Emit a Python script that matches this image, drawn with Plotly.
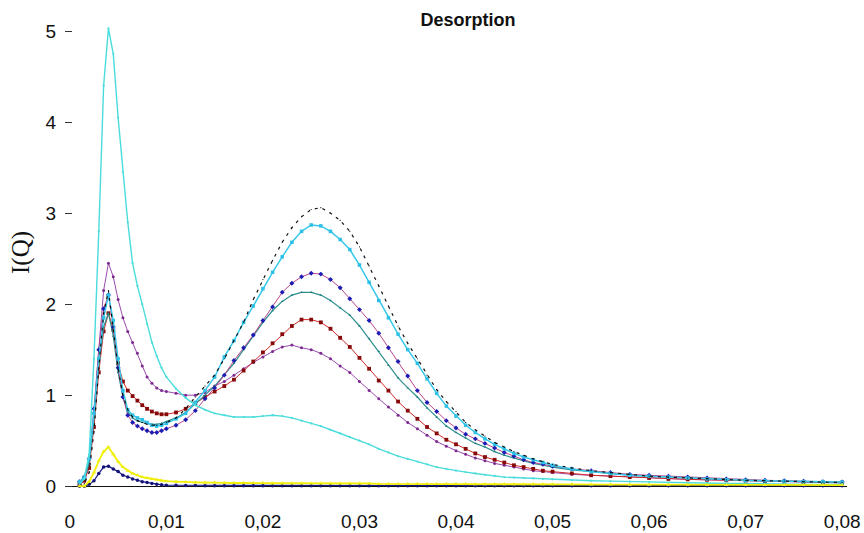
import plotly.graph_objects as go

# ---------------- data ----------------
Q = [0.0010, 0.0015, 0.0020, 0.0025, 0.0030, 0.0035, 0.0040, 0.0045, 0.0050, 0.0055,
     0.0060, 0.0065, 0.0070, 0.0075, 0.0080, 0.0085, 0.0090, 0.0095, 0.0100,
     0.011, 0.012, 0.013, 0.014, 0.015, 0.016, 0.017, 0.018, 0.019, 0.020,
     0.021, 0.022, 0.023, 0.024, 0.025, 0.026, 0.027, 0.028, 0.029, 0.030,
     0.031, 0.032, 0.033, 0.034, 0.035, 0.036, 0.037, 0.038, 0.039, 0.040,
     0.041, 0.042, 0.043, 0.044, 0.045, 0.046, 0.047, 0.048, 0.049, 0.050,
     0.052, 0.054, 0.056, 0.058, 0.060, 0.062, 0.064, 0.066, 0.068, 0.070,
     0.072, 0.074, 0.076, 0.078, 0.080]

light_cyan = [0.02, 0.08, 0.35, 1.4, 2.8, 4.4, 5.03, 4.75, 4.05, 3.45, 2.9, 2.45, 2.2, 2.0, 1.78, 1.58, 1.43, 1.3, 1.2,
              1.07, 0.97, 0.89, 0.84, 0.80, 0.78, 0.76, 0.76, 0.76, 0.77,
              0.78, 0.77, 0.75, 0.72, 0.69, 0.66, 0.62, 0.58, 0.54, 0.50,
              0.46, 0.41, 0.37, 0.33, 0.30, 0.27, 0.24, 0.21, 0.19, 0.17,
              0.155, 0.14, 0.125, 0.11, 0.10, 0.095, 0.09, 0.085, 0.08, 0.075,
              0.065, 0.06, 0.055, 0.05, 0.045, 0.04, 0.035, 0.035, 0.03, 0.03, 0.025, 0.025, 0.02, 0.02, 0.02]

black = [0.0, 0.03, 0.15, 0.6, 1.3, 1.9, 2.15, 1.75, 1.3, 1.0, 0.84, 0.76, 0.72, 0.70, 0.68, 0.67, 0.67, 0.68, 0.70,
         0.75, 0.85, 0.98, 1.10, 1.22, 1.40, 1.60, 1.80, 2.05, 2.27,
         2.48, 2.68, 2.84, 2.96, 3.04, 3.06, 3.00, 2.92, 2.80, 2.63,
         2.42, 2.20, 1.98, 1.76, 1.57, 1.40, 1.22, 1.06, 0.93, 0.82,
         0.70, 0.62, 0.55, 0.48, 0.43, 0.38, 0.34, 0.30, 0.27, 0.24,
         0.20, 0.17, 0.15, 0.13, 0.11, 0.10, 0.09, 0.08, 0.07, 0.065, 0.06, 0.055, 0.05, 0.045, 0.04]

cyan = [0.05, 0.10, 0.30, 0.80, 1.40, 1.85, 2.10, 1.82, 1.40, 1.05, 0.84, 0.78, 0.75, 0.73, 0.70, 0.67, 0.66, 0.67, 0.69,
        0.74, 0.80, 0.92, 1.05, 1.20, 1.42, 1.60, 1.80, 1.98, 2.17,
        2.35, 2.52, 2.68, 2.80, 2.87, 2.86, 2.80, 2.71, 2.60, 2.43,
        2.24, 2.04, 1.85, 1.67, 1.50, 1.35, 1.18, 1.02, 0.88, 0.77,
        0.67, 0.59, 0.52, 0.46, 0.41, 0.36, 0.32, 0.29, 0.26, 0.23,
        0.19, 0.16, 0.14, 0.12, 0.11, 0.10, 0.09, 0.08, 0.07, 0.065, 0.06, 0.055, 0.05, 0.05, 0.045]

blue = [0.05, 0.10, 0.30, 0.85, 1.50, 1.95, 2.10, 1.75, 1.30, 0.98, 0.78, 0.70, 0.66, 0.63, 0.61, 0.59, 0.59, 0.61, 0.63,
        0.67, 0.73, 0.83, 0.96, 1.08, 1.22, 1.38, 1.52, 1.66, 1.82,
        1.97, 2.13, 2.23, 2.30, 2.34, 2.33, 2.27, 2.18, 2.06, 1.94,
        1.82, 1.68, 1.52, 1.37, 1.21, 1.05, 0.92, 0.82, 0.72, 0.64,
        0.57, 0.52, 0.47, 0.42, 0.37, 0.33, 0.29, 0.26, 0.24, 0.22,
        0.19, 0.17, 0.15, 0.13, 0.12, 0.11, 0.10, 0.09, 0.08, 0.07, 0.065, 0.06, 0.055, 0.05, 0.045]

teal = [0.03, 0.08, 0.25, 0.75, 1.35, 1.75, 1.90, 1.65, 1.25, 0.98, 0.82, 0.75, 0.72, 0.70, 0.69, 0.68, 0.68, 0.69, 0.71,
        0.75, 0.81, 0.90, 1.00, 1.10, 1.22, 1.35, 1.50, 1.65, 1.80,
        1.93, 2.03, 2.10, 2.13, 2.13, 2.10, 2.04, 1.96, 1.88, 1.76,
        1.62, 1.48, 1.33, 1.19, 1.08, 0.98, 0.86, 0.76, 0.66, 0.59,
        0.53, 0.47, 0.43, 0.38, 0.34, 0.31, 0.28, 0.25, 0.23, 0.21,
        0.18, 0.16, 0.14, 0.12, 0.11, 0.10, 0.09, 0.08, 0.07, 0.065, 0.06, 0.055, 0.05, 0.045, 0.04]

maroon = [0.02, 0.06, 0.20, 0.65, 1.25, 1.70, 1.90, 1.72, 1.35, 1.15, 1.05, 0.99, 0.94, 0.89, 0.85, 0.82, 0.80, 0.79, 0.79,
          0.81, 0.85, 0.91, 0.98, 1.04, 1.10, 1.17, 1.27, 1.37, 1.47,
          1.57, 1.67, 1.76, 1.83, 1.83, 1.80, 1.73, 1.63, 1.53, 1.41,
          1.29, 1.16, 1.05, 0.93, 0.83, 0.74, 0.65, 0.58, 0.51, 0.46,
          0.41, 0.36, 0.32, 0.29, 0.26, 0.23, 0.21, 0.19, 0.17, 0.16,
          0.14, 0.12, 0.11, 0.10, 0.09, 0.08, 0.075, 0.07, 0.065, 0.06, 0.055, 0.05, 0.045, 0.04, 0.04]

purple = [0.02, 0.06, 0.25, 0.80, 1.50, 2.15, 2.45, 2.30, 2.05, 1.85, 1.70, 1.58, 1.46, 1.32, 1.20, 1.13, 1.08, 1.05, 1.04,
          1.02, 1.00, 1.00, 1.03, 1.10, 1.15, 1.22, 1.29, 1.36, 1.42,
          1.48, 1.53, 1.55, 1.52, 1.50, 1.46, 1.40, 1.32, 1.25, 1.15,
          1.05, 0.96, 0.87, 0.78, 0.70, 0.63, 0.56, 0.49, 0.44, 0.39,
          0.35, 0.31, 0.28, 0.25, 0.23, 0.21, 0.19, 0.17, 0.16, 0.15,
          0.13, 0.12, 0.11, 0.10, 0.09, 0.08, 0.075, 0.07, 0.065, 0.06, 0.055, 0.05, 0.045, 0.04, 0.035]

yellow = [0.0, 0.0, 0.05, 0.15, 0.28, 0.38, 0.43, 0.35, 0.27, 0.21, 0.17, 0.14, 0.12, 0.10, 0.09, 0.08, 0.07, 0.06, 0.055,
          0.05, 0.045, 0.04, 0.04, 0.04, 0.035, 0.035, 0.035, 0.035, 0.035,
          0.03, 0.03, 0.03, 0.03, 0.03, 0.03, 0.03, 0.03, 0.03, 0.03,
          0.03, 0.025, 0.025, 0.025, 0.025, 0.025, 0.025, 0.025, 0.025, 0.025,
          0.025, 0.02, 0.02, 0.02, 0.02, 0.02, 0.02, 0.02, 0.02, 0.02,
          0.02, 0.018, 0.018, 0.016, 0.016, 0.015, 0.015, 0.014, 0.014, 0.013, 0.013, 0.012, 0.012, 0.012, 0.012]

navy = [0.0, 0.0, 0.02, 0.06, 0.14, 0.21, 0.22, 0.19, 0.16, 0.12, 0.10, 0.08, 0.065, 0.05, 0.04, 0.03, 0.02, 0.015, 0.01,
        0.01, 0.008, 0.007, 0.006, 0.006, 0.005, 0.005, 0.005, 0.005, 0.005,
        0.005, 0.005, 0.005, 0.005, 0.005, 0.005, 0.005, 0.005, 0.005, 0.005,
        0.005, 0.005, 0.005, 0.005, 0.005, 0.005, 0.005, 0.005, 0.005, 0.005,
        0.005, 0.005, 0.005, 0.005, 0.005, 0.005, 0.005, 0.005, 0.005, 0.005,
        0.005, 0.005, 0.005, 0.005, 0.005, 0.005, 0.005, 0.005, 0.005, 0.005, 0.005, 0.005, 0.005, 0.005, 0.005]

x_tick_vals = [0, 0.01, 0.02, 0.03, 0.04, 0.05, 0.06, 0.07, 0.08]
x_tick_text = ["0", "0,01", "0,02", "0,03", "0,04", "0,05", "0,06", "0,07", "0,08"]
y_tick_vals = [0, 1, 2, 3, 4, 5]
y_tick_text = ["0", "1", "2", "3", "4", "5"]

# ---------------- figure ----------------
fig = go.Figure()

def add(y, line_color, marker_color, symbol, msize, width=1.0, dash="solid"):
    fig.add_trace(go.Scatter(
        x=Q, y=y, mode="lines+markers",
        line=dict(color=line_color, width=width, dash=dash),
        marker=dict(color=marker_color, symbol=symbol, size=msize, line=dict(width=0)),
        showlegend=False, hoverinfo="skip"))

add(purple, "#9A4AAE", "#7B2A8E", "circle", 3, 1.0)
add(maroon, "#D02A2A", "#860A0A", "square", 3.8, 1.0)
add(teal, "#2E8E8E", "#1F7F7F", "triangle-up", 2.5, 1.2)
add(blue, "#B03080", "#1C1CB4", "diamond", 3.8, 0.9)
add(cyan, "#36C8EC", "#2CC0E6", "square", 3.5, 1.5)
add(black, "#111111", "#111111", "circle", 1.2, 1.2, "3px,5px")
add(light_cyan, "#4ADCDC", "#4ADCDC", "circle", 2.2, 1.4)
add(navy, "#1A1A8A", "#141478", "circle", 3.5, 1.2)
add(yellow, "#F2F000", "#EEEE10", "triangle-up", 4, 1.8)

fig.update_layout(
    width=864, height=533,
    margin=dict(l=65, r=17, t=22, b=45),
    paper_bgcolor="white", plot_bgcolor="white",
    title=dict(text="<b>Desorption</b>", x=(468 - 65) / 782, xref="paper",
               y=1 - 20 / 533, yref="container", xanchor="center", yanchor="middle",
               font=dict(family="Liberation Sans, Arial", size=18, color="#111111")),
    font=dict(family="Liberation Sans, Arial", color="#111111"),
)

fig.update_xaxes(
    range=[-0.0005, 0.0805], automargin=False,
    tickvals=x_tick_vals, ticktext=x_tick_text,
    showgrid=False, zeroline=False, showline=False,
    ticks="", ticklabelstandoff=20,
    tickfont=dict(size=19, family="Liberation Sans, Arial", color="#111111"),
)
fig.update_yaxes(
    range=[-0.02, 5.1], automargin=False,
    tickvals=y_tick_vals, ticktext=y_tick_text,
    showgrid=False, zeroline=True, zerolinecolor="#111111", zerolinewidth=1.2,
    showline=False,
    ticks="inside", ticklen=7, tickwidth=1, tickcolor="#333333",
    ticklabelstandoff=8,
    tickfont=dict(size=19, family="Liberation Sans, Arial", color="#111111"),
)

fig.add_annotation(
    text="I(Q)", xref="paper", yref="paper",
    x=(21 - 65) / 782, y=(488 - 253) / 466,
    xanchor="center", yanchor="middle", textangle=-90, showarrow=False,
    font=dict(family="Liberation Serif, Times New Roman", size=25, color="#111111"),
)

fig.write_html("out.html")
